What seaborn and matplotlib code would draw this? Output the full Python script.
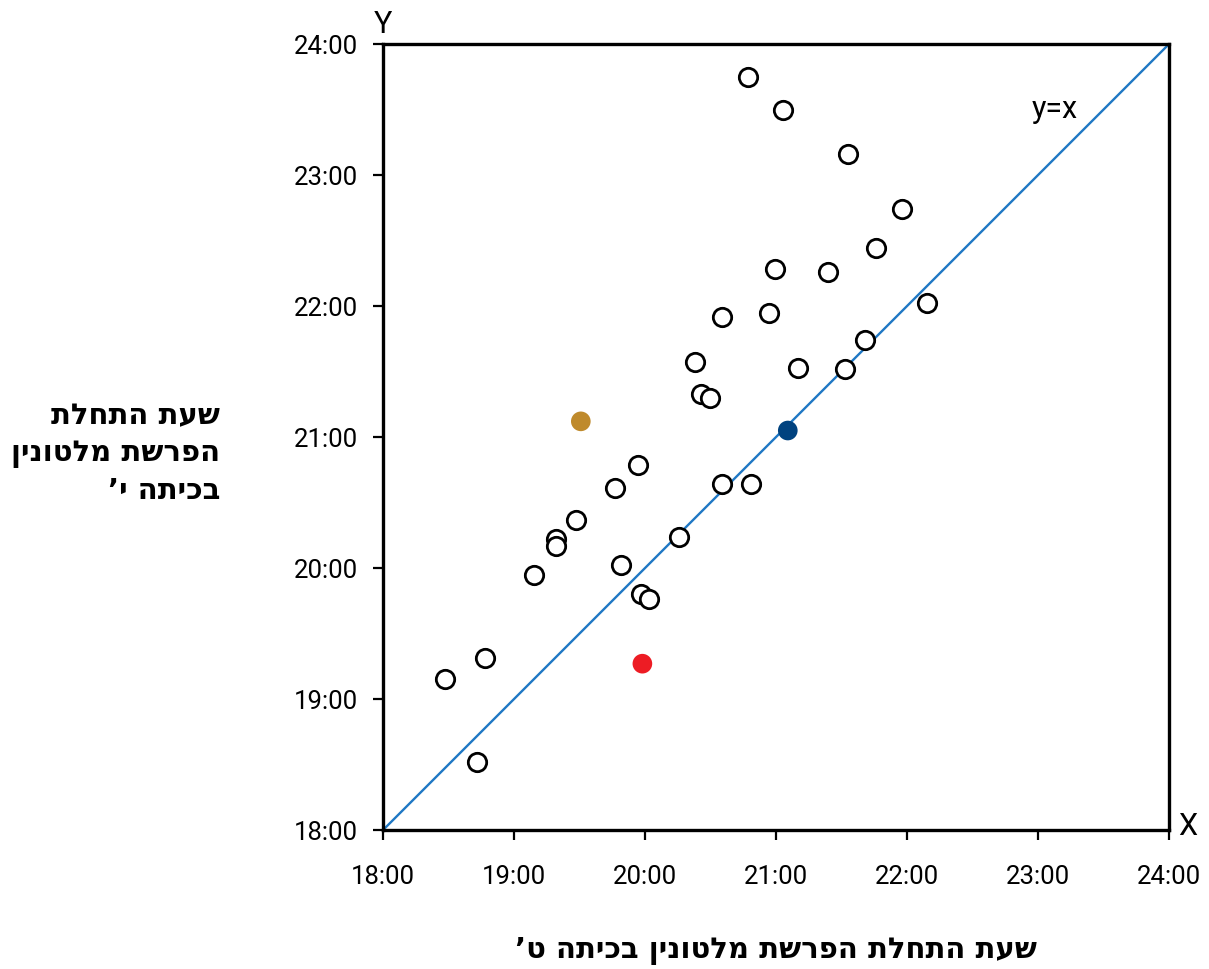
import pandas as pd
import seaborn as sns
import matplotlib.pyplot as plt

# שעות בכיתה ט' (x) ובכיתה י' (y), בשעות עשרוניות
grade9 = [20.79, 21.05, 21.55, 21.96, 21.76, 20.99, 21.40, 22.15, 20.59, 20.95,
          21.68, 20.38, 21.17, 21.53, 20.43, 20.50, 19.95, 19.77, 20.59, 20.81,
          19.47, 19.32, 19.32, 20.26, 19.15, 19.82, 19.97, 20.03, 18.78, 18.47,
          18.72]
grade10 = [23.75, 23.50, 23.16, 22.74, 22.44, 22.28, 22.26, 22.02, 21.92, 21.95,
           21.74, 21.57, 21.53, 21.52, 21.33, 21.30, 20.79, 20.61, 20.64, 20.64,
           20.37, 20.22, 20.17, 20.24, 19.95, 20.02, 19.80, 19.76, 19.31, 19.15,
           18.52]

# נקודות מודגשות
special_x = [19.51, 19.98, 21.09]
special_y = [21.12, 19.27, 21.05]
special_group = ['gold', 'red', 'navy']
special_colors = {'gold': '#BF8A2C', 'red': '#ED1C24', 'navy': '#00427F'}

diag = [18, 24]
hours = [18, 19, 20, 21, 22, 23, 24]
hour_labels = ['18:00', '19:00', '20:00', '21:00', '22:00', '23:00', '24:00']

xlabel_he = "שעת התחלת הפרשת מלטונין בכיתה ט’"
ylabel_he = ["שעת התחלת", "הפרשת מלטונין", "בכיתה י’"]


def rtl(s):
    # matplotlib אינו מטפל בכיווניות, לכן הופכים את הסדר
    return s[::-1]


sns.set_style('white')
plt.rcParams['font.family'] = ['Roboto', 'DejaVu Sans']
plt.rcParams['text.color'] = 'black'

fig = plt.figure(figsize=(12.09, 9.69), dpi=100)
ax = fig.add_axes([0.3168, 0.1434, 0.6501, 0.8111])

sns.lineplot(x=diag, y=diag, color='#1F78C4', linewidth=1.7, ax=ax, zorder=1)

df = pd.DataFrame({'x': grade9, 'y': grade10})
sns.scatterplot(data=df, x='x', y='y', facecolor='white', edgecolor='black',
                linewidth=2.0, s=175, ax=ax, zorder=3)

sp = pd.DataFrame({'x': special_x, 'y': special_y, 'g': special_group})
sns.scatterplot(data=sp, x='x', y='y', hue='g', palette=special_colors,
                linewidth=0, s=200, ax=ax, legend=False, zorder=4)

ax.set_xlim(18, 24)
ax.set_ylim(18, 24)
ax.set_xticks(hours)
ax.set_xticklabels(hour_labels)
ax.set_yticks(hours)
ax.set_yticklabels(hour_labels)
ax.tick_params(axis='both', direction='out', length=7, width=1.6,
               color='black', labelsize=18.5, labelcolor='black',
               bottom=True, left=True)
ax.tick_params(axis='x', pad=18)
ax.tick_params(axis='y', pad=11)

for sp_name in ax.spines:
    ax.spines[sp_name].set_visible(True)
    ax.spines[sp_name].set_color('black')
    ax.spines[sp_name].set_linewidth(2.4)

ax.set_xlabel('')
ax.set_ylabel('')

ax.text(23.13, 23.5, 'y=x', fontsize=22, ha='center', va='center')
ax.text(18, 24.04, 'Y', fontsize=22, ha='center', va='bottom')
ax.text(24.07, 18.03, 'X', fontsize=22, ha='left', va='center')

heb = ['DejaVu Sans']
fig.text(0.642, 0.004, rtl(xlabel_he), fontsize=21, fontweight='bold',
         family=heb, ha='center', va='bottom', color='black')
fig.text(0.182, 0.532, '\n'.join(rtl(l) for l in ylabel_he), fontsize=21,
         fontweight='bold', family=heb, ha='right', va='center',
         multialignment='right', linespacing=1.42, color='black')

plt.savefig('out.png', dpi=100)
